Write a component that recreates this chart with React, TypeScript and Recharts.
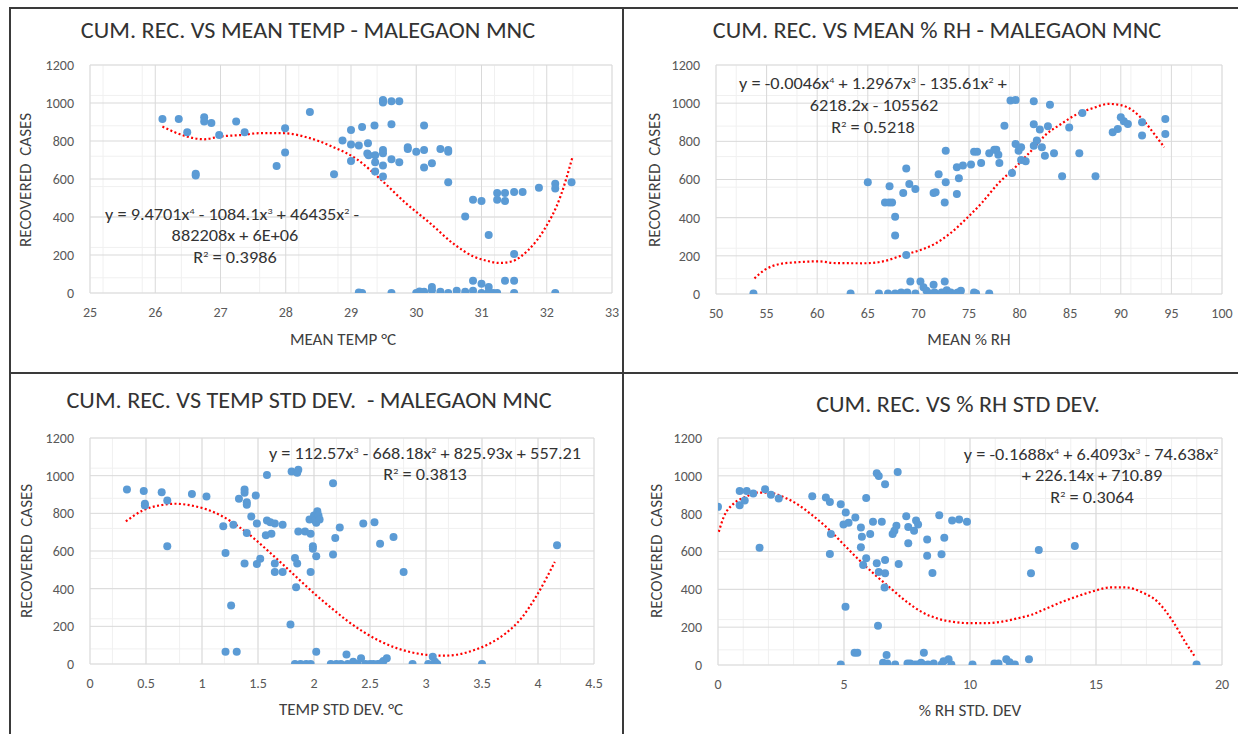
import React from 'react';
import { ComposedChart, Scatter, Line, XAxis, YAxis, CartesianGrid } from 'recharts';

const FONT = 'Calibri, Carlito, Lato, "Open Sans", sans-serif';

// ---- tick labels ----
const Y_TICKS = [0, 200, 400, 600, 800, 1000, 1200];
const TEMP_TICKS = [25, 26, 27, 28, 29, 30, 31, 32, 33];
const RH_TICKS = [50, 55, 60, 65, 70, 75, 80, 85, 90, 95, 100];
const TSD_TICKS = [0, 0.5, 1, 1.5, 2, 2.5, 3, 3.5, 4, 4.5];
const RHSD_TICKS = [0, 5, 10, 15, 20];

// ---- mean temp vs recovered ----
const TEMP_X = [
  26.11, 26.36, 26.49, 26.62, 26.62, 26.75, 26.75, 26.86, 26.98, 27.24, 27.37, 27.86, 27.99, 27.99, 28.37, 28.74,
  28.87, 29.0, 29.0, 29.0, 29.12, 29.17, 29.26, 29.25, 29.27, 29.36, 29.37, 29.37, 29.37, 29.49, 29.49, 29.49,
  29.49, 29.49, 29.49, 29.49, 29.62, 29.62, 29.62, 29.74, 29.74, 29.87, 29.87, 30.0, 30.12, 30.12, 30.12, 30.24,
  30.37, 30.49, 30.49, 30.49, 30.75, 30.87, 31.0, 31.11, 31.24, 31.24, 31.36, 31.36, 31.5, 31.5, 31.63, 31.88,
  32.13, 32.13, 32.38, 30.87, 31.36, 31.5, 31.0, 31.11, 30.24, 29.12, 29.17, 29.62, 30.0, 30.05, 30.12, 30.24,
  30.37, 30.49, 30.62, 30.75, 30.87, 31.0, 31.11, 31.18, 31.24, 31.5, 32.13,
];
const TEMP_Y = [
  916, 916, 846, 627, 618, 925, 902, 895, 832, 902, 846, 669, 867, 739, 953, 625,
  802, 858, 781, 695, 776, 874, 788, 734, 725, 881, 725, 688, 639, 1016, 1002, 1010,
  753, 736, 671, 613, 1009, 888, 704, 1009, 688, 767, 758, 744, 881, 753, 660, 683,
  758, 753, 744, 583, 403, 491, 484, 305, 526, 491, 526, 484, 531, 205, 531, 554,
  575, 550, 583, 65, 65, 65, 49, 32, 32, 3, 0, 0, 0, 8, 6, 14,
  6, 0, 12, 6, 12, 0, 6, 0, 0, 0, 0,
];
const TEMP_TREND_X = [26.11, 26.49, 26.75, 26.98, 27.34, 27.59, 27.96, 28.34, 28.71, 29.09, 29.46, 29.84, 30.21, 30.59, 30.9, 31.08, 31.27, 31.46, 31.71, 31.96, 32.21, 32.39];
const TEMP_TREND_Y = [876, 823, 809, 823, 832, 841, 841, 818, 771, 704, 596, 473, 368, 254, 189, 170, 158, 166, 224, 333, 508, 710];

// ---- mean % RH vs recovered ----
const RH_X = [
  53.7, 63.3, 65.0, 66.1, 67.0, 67.7, 67.15, 66.7, 67.1, 67.4, 67.7, 67.7, 68.5, 68.8, 68.8, 69.1,
  69.2, 68.3, 68.9, 69.7, 69.7, 70.2, 70.5, 70.8, 71.2, 71.6, 71.5, 71.7, 72.0, 72.6, 72.7, 72.7,
  72.6, 71.5, 72.3, 72.8, 73.2, 72.4, 73.8, 73.8, 74.0, 74.4, 73.9, 74.2, 73.7, 75.2, 75.5, 75.8,
  75.7, 75.5, 76.2, 77.0, 77.0, 77.5, 77.7, 77.9, 78.0, 78.5, 79.1, 79.6, 79.25, 79.6, 79.9, 80.15,
  80.15, 80.6, 81.4, 81.4, 81.4, 81.7, 82.0, 82.2, 82.5, 82.8, 83.0, 83.4, 84.2, 84.9, 85.9, 86.2,
  87.5, 89.2, 89.7, 90.0, 90.3, 90.7, 92.1, 92.1, 94.4, 94.4,
];
const RH_Y = [
  3, 3, 585, 3, 3, 3, 564, 480, 480, 480, 405, 307, 529, 658, 204, 576,
  65, 8, 8, 3, 550, 65, 35, 17, 3, 8, 529, 533, 627, 480, 751, 585,
  65, 49, 8, 20, 8, 3, 524, 664, 606, 673, 8, 17, 3, 678, 746, 746,
  3, 8, 687, 3, 737, 756, 756, 730, 687, 882, 1014, 1017, 634, 786, 751, 769,
  702, 695, 1010, 889, 777, 804, 862, 769, 725, 879, 992, 737, 617, 873, 737, 948,
  617, 847, 865, 926, 905, 891, 900, 830, 917, 839,
];
const RH_TREND_X = [53.8, 54.8, 56.3, 57.9, 60.1, 61.8, 64.6, 66.5, 68.5, 70.0, 71.6, 73.2, 74.7, 76.3, 77.9, 79.4, 81.0, 82.6, 84.1, 85.7, 87.3, 88.8, 90.0, 91.2, 92.4, 93.3, 94.3];
const RH_TREND_Y = [82, 126, 157, 166, 171, 162, 161, 171, 204, 227, 262, 320, 393, 480, 580, 655, 742, 835, 891, 943, 975, 996, 990, 961, 900, 839, 769];

// ---- temp std dev vs recovered ----
const TSD_X = [
  0.33, 0.48, 0.49, 0.49, 0.64, 0.69, 0.69, 0.91, 1.04, 1.19, 1.21, 1.21, 1.26, 1.28, 1.31, 1.33,
  1.38, 1.38, 1.4, 1.4, 1.38, 1.4, 1.44, 1.48, 1.49, 1.49, 1.52, 1.58, 1.58, 1.61, 1.57, 1.62,
  1.65, 1.65, 1.65, 1.72, 1.72, 1.79, 1.8, 1.85, 1.86, 1.83, 1.85, 1.84, 1.86, 1.92, 1.97, 1.97,
  1.96, 2.0, 2.01, 2.03, 2.04, 2.02, 2.05, 1.99, 1.99, 2.02, 2.02, 2.17, 2.17, 2.19, 2.23, 2.29,
  2.44, 2.54, 2.59, 2.71, 2.8, 4.17, 1.83, 1.88, 1.93, 1.97, 2.15, 2.2, 2.24, 2.3, 2.35, 2.39,
  2.42, 2.46, 2.5, 2.53, 2.57, 2.6, 2.62, 2.65, 2.88, 3.02, 3.06, 3.08, 3.1, 3.5,
];
const TSD_Y = [
  926, 918, 851, 842, 912, 868, 625, 903, 889, 732, 589, 65, 311, 739, 65, 877,
  926, 909, 859, 845, 533, 695, 783, 895, 746, 531, 559, 1004, 762, 753, 683, 692,
  746, 533, 489, 739, 489, 210, 1022, 1015, 1032, 563, 533, 408, 704, 704, 692, 489,
  767, 788, 762, 811, 788, 750, 767, 625, 612, 572, 65, 960, 582, 669, 725, 51,
  746, 753, 639, 674, 489, 630, 0, 0, 0, 0, 0, 0, 0, 0, 12, 0,
  30, 0, 0, 0, 0, 4, 16, 30, 0, 0, 39, 12, 0, 0,
];
const TSD_TREND_X = [0.32, 0.47, 0.62, 0.76, 0.9, 1.04, 1.18, 1.32, 1.46, 1.6, 1.74, 1.88, 2.02, 2.16, 2.3, 2.44, 2.58, 2.73, 2.87, 3.01, 3.15, 3.29, 3.43, 3.57, 3.71, 3.85, 3.99, 4.15];
const TSD_TREND_Y = [757, 815, 842, 851, 842, 821, 785, 732, 669, 595, 519, 441, 365, 295, 228, 171, 124, 86, 62, 48, 44, 51, 74, 109, 162, 242, 365, 542];

// ---- % RH std dev vs recovered ----
const RHSD_X = [
  0.0, 0.86, 1.14, 0.86, 1.06, 1.4, 1.65, 1.87, 2.1, 2.41, 3.74, 4.28, 4.44, 4.48, 4.44, 4.87,
  5.07, 4.98, 5.18, 5.45, 5.06, 4.87, 5.42, 5.53, 5.67, 5.71, 5.67, 5.76, 5.88, 5.88, 6.04, 6.15,
  6.3, 6.38, 6.3, 6.38, 6.35, 6.5, 6.63, 6.63, 6.63, 6.61, 6.69, 6.55, 6.72, 7.03, 6.93, 7.0,
  7.08, 7.13, 7.17, 7.47, 7.55, 7.55, 7.78, 7.86, 7.94, 8.3, 8.3, 8.51, 8.78, 8.87, 8.98, 9.29,
  9.57, 9.88, 8.17, 7.52, 7.63, 7.82, 7.94, 8.06, 8.13, 8.33, 8.56, 8.87, 8.95, 9.15, 9.26, 10.1,
  10.97, 11.13, 11.44, 11.57, 11.78, 12.34, 12.42, 12.73, 14.16, 18.99,
];
const RHSD_Y = [
  836, 920, 920, 844, 869, 906, 620, 929, 900, 880, 892, 885, 862, 692, 587, 850,
  806, 743, 752, 780, 308, 3, 65, 65, 727, 678, 622, 529, 883, 564, 692, 757,
  1014, 999, 538, 491, 208, 757, 955, 555, 485, 410, 53, 12, 8, 3, 692, 710,
  736, 1020, 534, 787, 729, 643, 710, 764, 743, 664, 578, 487, 792, 585, 673, 764,
  769, 757, 65, 8, 8, 3, 3, 12, 3, 3, 8, 3, 20, 30, 3, 3,
  8, 8, 30, 15, 3, 30, 485, 608, 629, 3,
];
const RHSD_TREND_X = [0.03, 0.23, 0.62, 1.09, 1.56, 2.02, 2.49, 3.11, 3.74, 4.36, 4.98, 5.6, 6.23, 6.85, 7.47, 8.09, 8.72, 9.34, 9.96, 10.58, 11.21, 11.83, 12.45, 13.07, 13.7, 14.32, 14.94, 15.56, 16.19, 16.81, 17.43, 18.05, 18.52, 18.91];
const RHSD_TREND_Y = [704, 783, 853, 888, 911, 911, 894, 853, 792, 722, 638, 555, 477, 406, 336, 280, 245, 228, 221, 221, 228, 245, 266, 301, 336, 366, 392, 410, 410, 385, 336, 231, 126, 47];

const zip = (xs: number[], ys: number[]) => xs.map((x, i) => ({ x, y: ys[i] }));

const steps = (from: number, to: number, step: number) => {
  const out: number[] = [];
  for (let v = from; v <= to + 1e-9; v += step) out.push(Math.round(v * 1000) / 1000);
  return out;
};
const Y_MINOR = steps(0, 1200, 40);

function BlueDot(props: any) {
  const { cx, cy } = props;
  if (cx == null || cy == null) return <g />;
  return <circle cx={cx} cy={cy} r={4} fill="#5B9BD5" />;
}

interface PanelProps {
  left: number;
  top: number;
  w: number;
  h: number;
  domain: [number, number];
  ticks: number[];
  minor: number[];
  points: { x: number; y: number }[];
  trend: { x: number; y: number }[];
}

const ML = 60, MT = 20, MR = 20, MB = 40;

function Panel({ left, top, w, h, domain, ticks, minor, points, trend }: PanelProps) {
  const tick = { fill: '#595959', fontSize: 14, fontFamily: FONT };
  return (
    <div style={{ position: 'absolute', left: left - ML, top: top - MT }}>
      <ComposedChart width={w + ML + MR} height={h + MT + MB} margin={{ top: MT, right: MR, left: ML - 40, bottom: MB - 30 }}>
        <XAxis xAxisId="minor" type="number" dataKey="x" domain={domain} ticks={minor} hide allowDataOverflow />
        <YAxis yAxisId="minor" type="number" dataKey="y" domain={[0, 1200]} ticks={Y_MINOR} hide allowDataOverflow />
        <CartesianGrid xAxisId="minor" yAxisId="minor" stroke="#F0F0F0" strokeWidth={1} />
        <CartesianGrid stroke="#D9D9D9" strokeWidth={1} />
        <XAxis
          type="number"
          dataKey="x"
          domain={domain}
          ticks={ticks}
          interval={0}
          allowDataOverflow
          axisLine={false}
          tickLine={false}
          tickMargin={8}
          height={30}
          tick={tick}
        />
        <YAxis
          type="number"
          dataKey="y"
          domain={[0, 1200]}
          ticks={Y_TICKS}
          interval={0}
          allowDataOverflow
          axisLine={false}
          tickLine={false}
          tickMargin={10}
          width={40}
          tick={tick}
        />
        <Scatter data={points} dataKey="y" shape={<BlueDot />} isAnimationActive={false} />
        <Line
          data={trend}
          dataKey="y"
          type="monotone"
          stroke="#FF0000"
          strokeWidth={2.2}
          strokeDasharray="2 2.4"
          dot={false}
          activeDot={false}
          isAnimationActive={false}
        />
      </ComposedChart>
    </div>
  );
}

interface TxtProps {
  x: number;
  y: number;
  size: number;
  children: React.ReactNode;
  rotate?: boolean;
  color?: string;
  sx?: number;
}

function Txt({ x, y, size, children, rotate, color, sx = 1 }: TxtProps) {
  return (
    <div
      style={{
        position: 'absolute',
        left: x,
        top: y,
        transform: `translate(-50%, -50%)${rotate ? ' rotate(-90deg)' : ''} scaleX(${sx})`,
        fontSize: size,
        fontFamily: FONT,
        color: color ?? '#333',
        whiteSpace: 'pre',
        lineHeight: 1,
      }}
    >
      {children}
    </div>
  );
}

const Sup = ({ c }: { c: string }) => <sup style={{ fontSize: '0.55em', verticalAlign: '0.7em', lineHeight: 0 }}>{c}</sup>;

export default function App() {
  const line = '#3a3a3a';
  const EQ = 15.5;
  const EQX = 1.18;
  return (
    <div style={{ position: 'absolute', left: 0, top: 0, width: 1238, height: 734, background: '#fff', overflow: 'hidden' }}>
      <div style={{ position: 'absolute', left: 9, top: 7, width: 1229, height: 2, background: line }} />
      <div style={{ position: 'absolute', left: 9, top: 7, width: 2, height: 727, background: line }} />
      <div style={{ position: 'absolute', left: 622, top: 7, width: 2, height: 727, background: line }} />
      <div style={{ position: 'absolute', left: 9, top: 372, width: 1229, height: 2, background: line }} />

      <Panel left={90} top={65} w={522} h={228} domain={[25, 33]} ticks={TEMP_TICKS} minor={steps(25, 33, 0.2)} points={zip(TEMP_X, TEMP_Y)} trend={zip(TEMP_TREND_X, TEMP_TREND_Y)} />
      <Panel left={716} top={65} w={506} h={229} domain={[50, 100]} ticks={RH_TICKS} minor={steps(50, 100, 1)} points={zip(RH_X, RH_Y)} trend={zip(RH_TREND_X, RH_TREND_Y)} />
      <Panel left={90} top={438} w={504} h={226} domain={[0, 4.5]} ticks={TSD_TICKS} minor={steps(0, 4.5, 0.1)} points={zip(TSD_X, TSD_Y)} trend={zip(TSD_TREND_X, TSD_TREND_Y)} />
      <Panel left={718} top={438} w={504} h={227} domain={[0, 20]} ticks={RHSD_TICKS} minor={steps(0, 20, 1)} points={zip(RHSD_X, RHSD_Y)} trend={zip(RHSD_TREND_X, RHSD_TREND_Y)} />

      {/* titles */}
      <Txt x={308} y={31} size={22} sx={1.1}>CUM. REC. VS MEAN TEMP - MALEGAON MNC</Txt>
      <Txt x={937} y={31} size={22} sx={1.1}>CUM. REC. VS MEAN % RH - MALEGAON MNC</Txt>
      <Txt x={309} y={401} size={22} sx={1.1}>CUM. REC. VS TEMP STD DEV.  - MALEGAON MNC</Txt>
      <Txt x={958} y={405} size={22} sx={1.1}>CUM. REC. VS % RH STD DEV.</Txt>

      {/* axis titles */}
      <Txt x={343} y={340} size={15.5} sx={1.1} color="#404040">MEAN TEMP °C</Txt>
      <Txt x={969} y={340} size={15.5} sx={1.1} color="#404040">MEAN % RH</Txt>
      <Txt x={341} y={710} size={15.5} sx={1.1} color="#404040">TEMP STD DEV. °C</Txt>
      <Txt x={970} y={711} size={15.5} sx={1.1} color="#404040">% RH STD. DEV</Txt>
      <Txt x={26} y={180} size={15.5} sx={1.1} rotate color="#404040">RECOVERED  CASES</Txt>
      <Txt x={655} y={180} size={15.5} sx={1.1} rotate color="#404040">RECOVERED  CASES</Txt>
      <Txt x={27} y={551} size={15.5} sx={1.1} rotate color="#404040">RECOVERED  CASES</Txt>
      <Txt x={657} y={551} size={15.5} sx={1.1} rotate color="#404040">RECOVERED  CASES</Txt>

      {/* trendline equations */}
      <Txt x={232} y={215} size={EQ} sx={EQX}>y = 9.4701x<Sup c="4" /> - 1084.1x<Sup c="3" /> + 46435x<Sup c="2" /> -</Txt>
      <Txt x={235} y={236} size={EQ} sx={EQX}>882208x + 6E+06</Txt>
      <Txt x={235} y={258} size={EQ} sx={EQX}>R<Sup c="2" /> = 0.3986</Txt>

      <Txt x={873} y={84} size={EQ} sx={EQX}>y = -0.0046x<Sup c="4" /> + 1.2967x<Sup c="3" /> - 135.61x<Sup c="2" /> +</Txt>
      <Txt x={874} y={106} size={EQ} sx={EQX}>6218.2x - 105562</Txt>
      <Txt x={873} y={128} size={EQ} sx={EQX}>R<Sup c="2" /> = 0.5218</Txt>

      <Txt x={425} y={454} size={EQ} sx={EQX}>y = 112.57x<Sup c="3" /> - 668.18x<Sup c="2" /> + 825.93x + 557.21</Txt>
      <Txt x={425} y={475} size={EQ} sx={EQX}>R<Sup c="2" /> = 0.3813</Txt>

      <Txt x={1091} y={455} size={EQ} sx={EQX}>y = -0.1688x<Sup c="4" /> + 6.4093x<Sup c="3" /> - 74.638x<Sup c="2" /></Txt>
      <Txt x={1092} y={476} size={EQ} sx={EQX}>+ 226.14x + 710.89</Txt>
      <Txt x={1092} y={498} size={EQ} sx={EQX}>R<Sup c="2" /> = 0.3064</Txt>
    </div>
  );
}
